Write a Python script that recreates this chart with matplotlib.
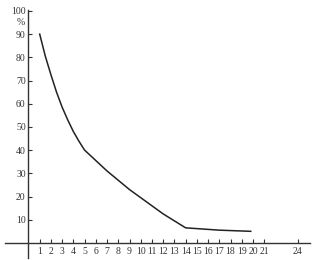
import matplotlib
matplotlib.use("Agg")
import matplotlib.pyplot as plt

# values
x_vals = [1, 1.5, 2, 2.5, 3, 3.5, 4, 4.5, 5, 6, 7, 8, 9, 10, 11, 12, 13, 14, 17, 19.8]
y_vals = [90, 80.5, 72.5, 65, 58.5, 53, 48, 43.8, 40, 35.5, 31, 27, 23, 19.5, 16, 12.5, 9.5, 6.5, 5.5, 5]

x_ticks = list(range(1, 22)) + [24]
y_ticks = [10, 20, 30, 40, 50, 60, 70, 80, 90, 100]

plt.rcParams['font.family'] = ['Liberation Serif', 'DejaVu Serif']

fig = plt.figure(figsize=(3.19, 2.60), dpi=100)
ax = fig.add_axes([0.0157, 0.0077, 0.9558, 0.9538])

ax.plot(x_vals, y_vals, color='#222222', lw=1.1)

ax.set_xlim(-2.09, 25.07)
ax.set_ylim(-6.5, 100.4)

ax.spines['left'].set_position(('data', 0))
ax.spines['bottom'].set_position(('data', 0))
ax.spines['right'].set_visible(False)
ax.spines['top'].set_visible(False)
for s in ['left', 'bottom']:
    ax.spines[s].set_color('#333333')
    ax.spines[s].set_linewidth(1.0)

ax.set_xticks(x_ticks)
ax.set_xticklabels([str(t) for t in x_ticks])
ax.set_yticks(y_ticks)
ax.set_yticklabels([str(t) for t in y_ticks])
ax.tick_params(axis='both', direction='in', length=3, width=0.8,
               colors='#333333', labelsize=7, pad=2)
ax.tick_params(axis='x', pad=3)

ax.text(-0.35, 95.2, '%', ha='right', va='center', fontsize=7, color='#333333')

fig.savefig('out.png', dpi=100)
